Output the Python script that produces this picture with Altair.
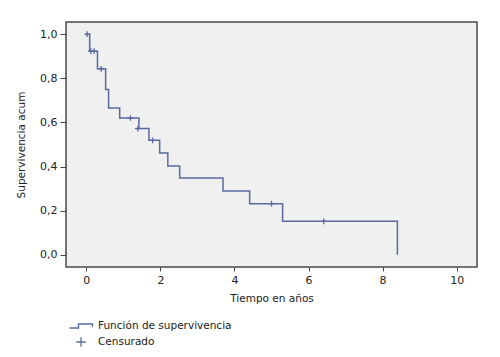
import altair as alt
import pandas as pd

# Kaplan-Meier step function (time in years, cumulative survival)
tiempo = [0.0, 0.09, 0.30, 0.52, 0.60, 0.90, 1.42, 1.69, 1.98, 2.20, 2.52, 3.69, 4.41, 5.30, 8.40]
superv = [1.0, 0.923, 0.843, 0.749, 0.665, 0.620, 0.572, 0.519, 0.462, 0.403, 0.348, 0.289, 0.232, 0.152, 0.0]

# Censored observations
cens_t = [0.02, 0.12, 0.21, 0.40, 1.19, 1.39, 1.79, 5.00, 6.41]
cens_s = [1.0, 0.923, 0.923, 0.843, 0.620, 0.572, 0.519, 0.232, 0.152]

x_ticks = [0, 2, 4, 6, 8, 10]
y_ticks = [0.0, 0.2, 0.4, 0.6, 0.8, 1.0]
series = ["Función de supervivencia", "Censurado"]

COL = "#5b68a3"
FONT = "DejaVu Sans"

curve = pd.DataFrame({"t": tiempo, "s": superv})
cens = pd.DataFrame({"t": cens_t, "s": cens_s, "serie": ["Censurado"] * len(cens_t)})

step_path = "M-2.3,0.4L-0.5,0.4L-0.5,-0.4L2.3,-0.4L2.3,0.2"
plus_path = "M-0.95,0L0.95,0M0,-0.95L0,0.95"

xs = alt.Scale(domain=[-0.55, 10.55], nice=False, zero=False)
ys = alt.Scale(domain=[-0.055, 1.055], nice=False, zero=False)

x_axis = alt.Axis(values=x_ticks, title="Tiempo en años", grid=False, domain=False,
                  tickSize=4, labelPadding=3, titlePadding=8)
y_axis = alt.Axis(values=y_ticks, title="Supervivencia acum", grid=False, domain=False,
                  tickSize=6, labelPadding=3, titlePadding=13,
                  labelExpr="replace(format(datum.value, '.1f'), '.', ',')")

leg = alt.Legend(title=None, orient="none", legendX=9, legendY=298,
                 symbolSize=100, symbolStrokeWidth=1.3,
                 symbolStrokeColor=COL, symbolFillColor="transparent",
                 labelFont=FONT, labelFontSize=10.5, labelColor="#222",
                 rowPadding=2, labelOffset=11)

line = alt.Chart(curve).mark_line(interpolate="step-after", strokeWidth=1.5, color=COL).encode(
    x=alt.X("t:Q", scale=xs, axis=x_axis),
    y=alt.Y("s:Q", scale=ys, axis=y_axis),
)

pts = alt.Chart(cens).mark_point(filled=False, strokeWidth=1.3, size=36, opacity=1).encode(
    x=alt.X("t:Q", scale=xs),
    y=alt.Y("s:Q", scale=ys),
    color=alt.Color("serie:N", scale=alt.Scale(domain=series, range=[COL, COL]), legend=leg),
    shape=alt.Shape("serie:N", scale=alt.Scale(domain=series, range=[step_path, plus_path]),
                    legend=leg),
)

chart = alt.layer(line, pts).properties(
    width=411, height=245,
    autosize=alt.AutoSizeParams(type="none"),
    padding={"left": 58, "top": 14, "right": 15, "bottom": 82},
    background="white",
).configure_view(
    fill="#f0f0f0", stroke="#4a4a4a", strokeWidth=1.5,
).configure_axis(
    labelFont=FONT, titleFont=FONT, labelFontSize=11, titleFontSize=10.5,
    labelColor="#222", titleColor="#222", titleFontWeight="normal",
    tickColor="#444", tickWidth=1,
)

chart.save("out.html", embed_options={"renderer": "svg", "actions": False})
